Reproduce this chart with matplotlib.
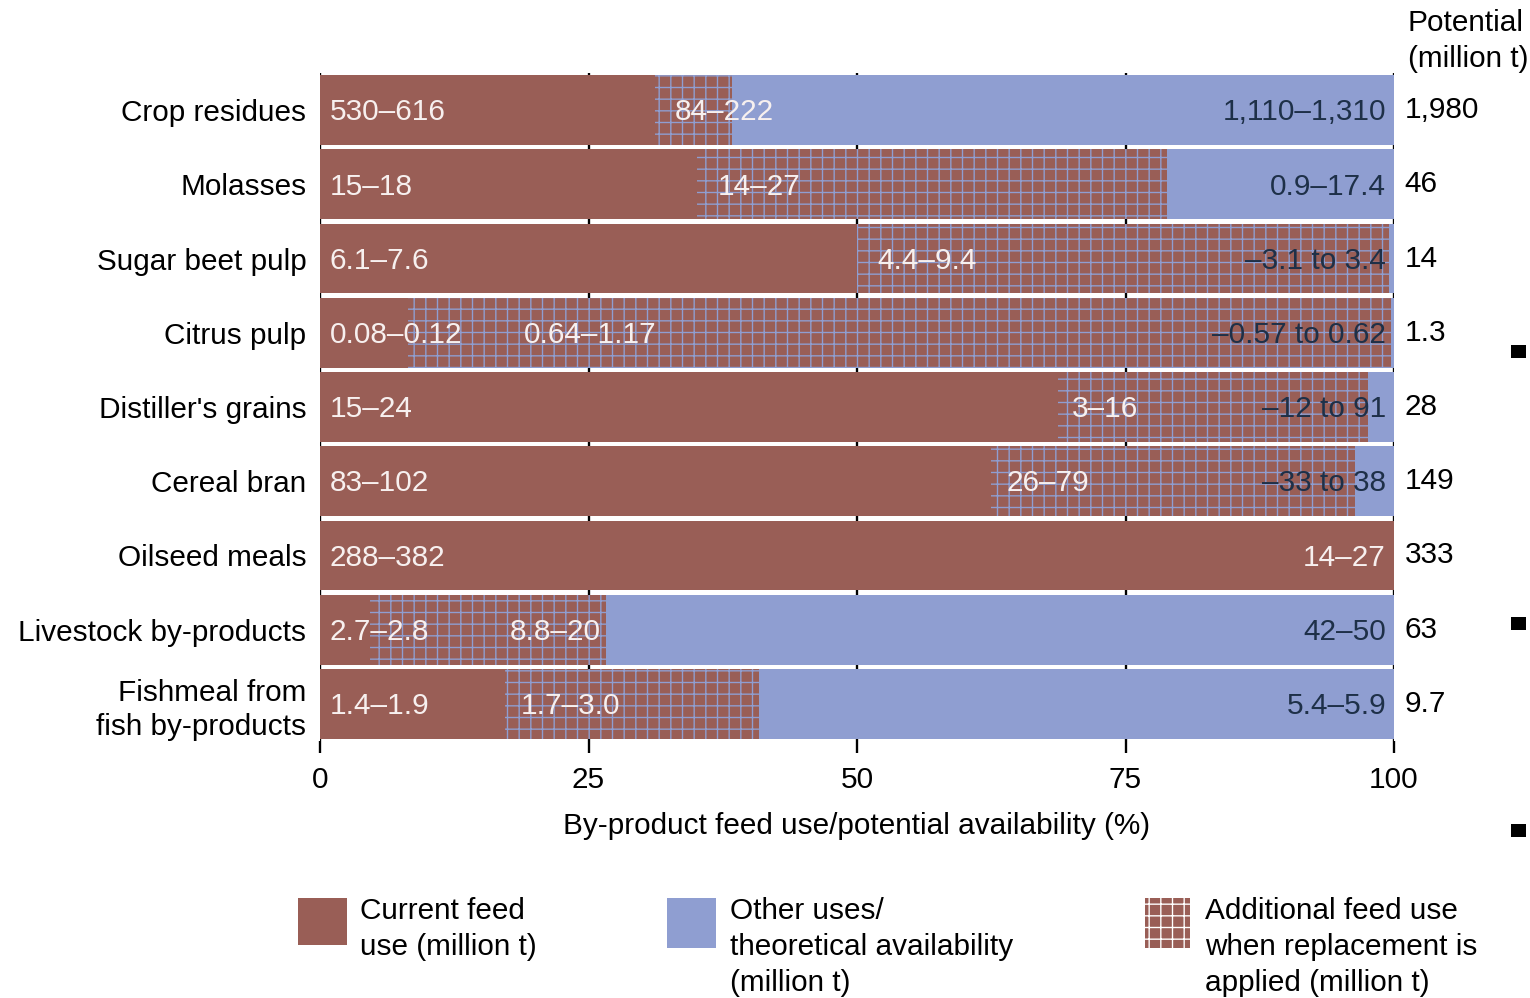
import matplotlib
matplotlib.use("Agg")
import matplotlib.pyplot as plt
from matplotlib.patches import Rectangle

plt.rcParams['font.family'] = ['Liberation Sans', 'DejaVu Sans']
plt.rcParams['hatch.linewidth'] = 0.7

# ---------------- data ----------------
categories = ["Crop residues", "Molasses", "Sugar beet pulp", "Citrus pulp",
              "Distiller's grains", "Cereal bran", "Oilseed meals",
              "Livestock by-products", "Fishmeal from\nfish by-products"]
current_pct = [31.2, 35.1, 50.0, 8.2, 68.7, 62.5, 100.0, 4.7, 17.2]
additional_end_pct = [38.4, 78.9, 99.5, 99.7, 97.6, 96.4, 100.0, 26.6, 40.9]
current_labels = ["530–616", "15–18", "6.1–7.6", "0.08–0.12", "15–24", "83–102",
                  "288–382", "2.7–2.8", "1.4–1.9"]
additional_labels = ["84–222", "14–27", "4.4–9.4", "0.64–1.17", "3–16", "26–79",
                     "", "8.8–20", "1.7–3.0"]
right_labels = ["1,110–1,310", "0.9–17.4", "–3.1 to 3.4", "–0.57 to 0.62",
                "–12 to 91", "–33 to 38", "14–27", "42–50", "5.4–5.9"]
potential = ["1,980", "46", "14", "1.3", "28", "149", "333", "63", "9.7"]
xticks = [0, 25, 50, 75, 100]

# layout: x (in %) where the middle labels start
mid_label_x = [33.0, 37.0, 51.9, 19.0, 70.0, 63.9, None, 17.7, 18.7]

BROWN = '#995e56'
BLUE = '#8f9ed1'
WHITE_TXT = '#f7f0ef'
DARK_TXT = '#1e3048'
FS = 15.3

W, H, DPI = 1530, 998, 140
fig = plt.figure(figsize=(W / DPI, H / DPI), dpi=DPI)

def fx(px):
    return px / W

def fy(py):
    return 1 - py / H

ax = fig.add_axes([fx(320), fy(741), fx(1394) - fx(320), fy(73) - fy(741)])
n = len(categories)
ys = list(range(n))
bh = 0.94

add_w = [a - c for a, c in zip(additional_end_pct, current_pct)]
oth_w = [100 - a for a in additional_end_pct]

ax.barh(ys, current_pct, height=bh, color=BROWN, linewidth=0, zorder=2)
ax.barh(ys, add_w, left=current_pct, height=bh, color=BROWN, edgecolor=BLUE,
        hatch='++', linewidth=0, zorder=2)
ax.barh(ys, oth_w, left=additional_end_pct, height=bh, color=BLUE, linewidth=0, zorder=2)

ax.set_xlim(0, 100)
ax.set_ylim(n - 0.5, -0.5)
ax.set_axisbelow(True)
ax.xaxis.grid(True, color='black', linewidth=1.2)
ax.set_xticks(xticks)
ax.set_xticklabels([str(t) for t in xticks], fontsize=FS)
ax.tick_params(axis='x', length=6, width=1.2, pad=7, color='black')
ax.set_yticks(ys)
ax.set_yticklabels(categories, fontsize=FS, multialignment='right', linespacing=1.3)
ax.tick_params(axis='y', length=0, pad=7)
for s in ax.spines.values():
    s.set_visible(False)
ax.set_xlabel("By-product feed use/potential availability (%)", fontsize=FS, labelpad=9)

for i in range(n):
    ax.text(0.9, i + 0.03, current_labels[i], color=WHITE_TXT, fontsize=FS,
            va='center', ha='left', zorder=3)
    if additional_labels[i] and mid_label_x[i] is not None:
        ax.text(mid_label_x[i], i + 0.03, additional_labels[i], color=WHITE_TXT, fontsize=FS,
                va='center', ha='left', zorder=3)
    col = WHITE_TXT if current_pct[i] >= 100 else DARK_TXT
    ax.text(99.25, i + 0.03, right_labels[i], color=col, fontsize=FS,
            va='center', ha='right', zorder=3)
    ax.text(101.0, i, potential[i], color='black', fontsize=FS,
            va='center', ha='left', clip_on=False)

fig.text(fx(1408), fy(23), "Potential", fontsize=FS, va='center', ha='left')
fig.text(fx(1408), fy(59), "(million t)", fontsize=FS, va='center', ha='left')

# legend
def rect(x0, y0, x1, y1, **kw):
    fig.patches.append(Rectangle((fx(x0), fy(y1)), fx(x1) - fx(x0), fy(y0) - fy(y1),
                                 transform=fig.transFigure, **kw))

rect(298, 898, 347, 945, facecolor=BROWN, linewidth=0)
rect(667, 898, 716, 948, facecolor=BLUE, linewidth=0)
rect(1145, 898, 1190, 948, facecolor=BROWN, edgecolor='white', hatch='++', linewidth=0)

legend_texts = [(360, ["Current feed", "use (million t)"]),
                (730, ["Other uses/", "theoretical availability", "(million t)"]),
                (1205, ["Additional feed use", "when replacement is", "applied (million t)"])]
for x0, lines in legend_texts:
    for k, line in enumerate(lines):
        fig.text(fx(x0), fy(911 + 36 * k), line, fontsize=FS, va='center', ha='left')

# small black marks at the right edge
for yy in (345, 617, 824):
    rect(1511, yy, 1526, yy + 13, facecolor='black', linewidth=0)

fig.savefig("out.png", dpi=DPI)
